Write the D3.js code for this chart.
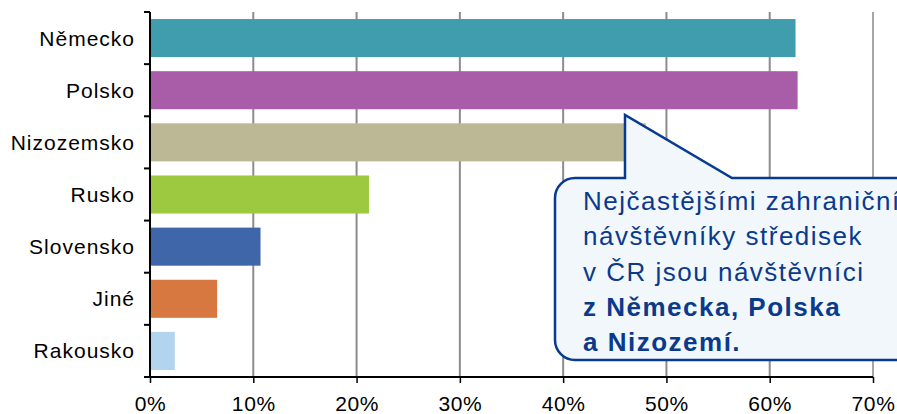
<!DOCTYPE html>
<html>
<head>
<meta charset="utf-8">
<script src="https://cdn.jsdelivr.net/npm/d3@7"></script>
<style>
  body { margin: 0; background: #fff; }
  text { font-family: "Liberation Sans", Arial, sans-serif; }
</style>
</head>
<body>
<svg id="chart" width="897" height="414"></svg>
<script>
var countries = ["Německo", "Polsko", "Nizozemsko", "Rusko", "Slovensko", "Jiné", "Rakousko"];
var shares = [62.5, 62.7, 48, 21.2, 10.7, 6.5, 2.4];
var barColors = ["#409dae", "#a95da9", "#bcb795", "#9dc940", "#4066aa", "#d67840", "#b3d4ee"];
var ticks = [0, 10, 20, 30, 40, 50, 60, 70];
var calloutLines = [
  {t: "Nejčastějšími zahraniční", bold: false},
  {t: "návštěvníky středisek", bold: false},
  {t: "v ČR jsou návštěvníci", bold: false},
  {t: "z Německa, Polska", bold: true},
  {t: "a Nizozemí.", bold: true}
];

var svg = d3.select("#chart"),
    margin = {top: 12, right: 24, bottom: 37, left: 150},
    width = +svg.attr("width") - margin.left - margin.right,
    height = +svg.attr("height") - margin.top - margin.bottom;

var data = countries.map(function(c, i) { return {name: c, value: shares[i], color: barColors[i]}; });

var x = d3.scaleLinear().domain([0, 70]).range([0, width]);
var y = d3.scaleBand().domain(countries).range([0, height]).paddingInner(0.27).paddingOuter(0.135);

var g = svg.append("g")
    .attr("transform", "translate(" + margin.left + "," + margin.top + ")");

// grid
g.selectAll(".grid")
    .data(ticks.slice(1))
    .enter().append("line")
    .attr("class", "grid")
    .attr("x1", function(d) { return x(d); })
    .attr("x2", function(d) { return x(d); })
    .attr("y1", 0)
    .attr("y2", height)
    .attr("stroke", function(d) { return d === 70 ? "#a6a6a6" : "#8c8c8c"; })
    .attr("stroke-width", 2);

g.selectAll(".bar")
    .data(data)
    .enter().append("rect")
    .attr("class", "bar")
    .attr("x", 0)
    .attr("y", function(d) { return y(d.name); })
    .attr("height", y.bandwidth())
    .attr("width", function(d) { return x(d.value); })
    .attr("fill", function(d) { return d.color; });

// x axis
var xAxis = g.append("g")
    .attr("transform", "translate(0," + height + ")")
    .call(d3.axisBottom(x).tickValues(ticks).tickSize(6).tickPadding(13)
      .tickFormat(function(d) { return d + "%"; }));
xAxis.select(".domain").attr("stroke", "#000").attr("stroke-width", 2)
    .attr("d", "M0,0H" + width);
xAxis.selectAll(".tick line").attr("stroke", "#000").attr("stroke-width", 1.5);
xAxis.selectAll("text").attr("font-size", 21).attr("letter-spacing", 0.6).attr("fill", "#000");

// y axis with ticks at band boundaries
var yAxis = g.append("g");
yAxis.append("line")
    .attr("x1", 0).attr("x2", 0).attr("y1", 0).attr("y2", height)
    .attr("stroke", "#000").attr("stroke-width", 2);
yAxis.selectAll(".ytick")
    .data(d3.range(countries.length + 1))
    .enter().append("line")
    .attr("x1", -6).attr("x2", 0)
    .attr("y1", function(i) { return i * height / countries.length; })
    .attr("y2", function(i) { return i * height / countries.length; })
    .attr("stroke", "#000").attr("stroke-width", 2);
yAxis.selectAll(".ylabel")
    .data(countries)
    .enter().append("text")
    .attr("x", -15)
    .attr("y", function(d) { return y(d) + y.bandwidth() / 2; })
    .attr("dy", "0.36em")
    .attr("text-anchor", "end")
    .attr("font-size", 21)
    .attr("letter-spacing", 1)
    .attr("fill", "#000")
    .text(function(d) { return d; });

// callout
var cx0 = 555, cy0 = 178, cx1 = 920, cy1 = 360, r = 20;
var px = 625, py = 115, pr = 732;
var path = "M" + (cx0 + r) + "," + cy0 +
  "H" + px + "V" + py + "L" + pr + "," + cy0 +
  "H" + cx1 + "V" + cy1 + "H" + (cx0 + r) +
  "A" + r + "," + r + " 0 0 1 " + cx0 + "," + (cy1 - r) +
  "V" + (cy0 + r) +
  "A" + r + "," + r + " 0 0 1 " + (cx0 + r) + "," + cy0 + "Z";
svg.append("path")
    .attr("d", path)
    .attr("fill", "#f2f7fc")
    .attr("stroke", "#083b8f")
    .attr("stroke-width", 2.5)
    .attr("stroke-linejoin", "miter");

svg.append("g").selectAll("text")
    .data(calloutLines)
    .enter().append("text")
    .attr("x", 583)
    .attr("y", function(d, i) { return 210 + i * 35.3; })
    .attr("font-size", 26)
    .attr("letter-spacing", 1.5)
    .attr("font-weight", function(d) { return d.bold ? "bold" : "normal"; })
    .attr("fill", "#0a3a8c")
    .text(function(d) { return d.t; });
</script>
</body>
</html>
